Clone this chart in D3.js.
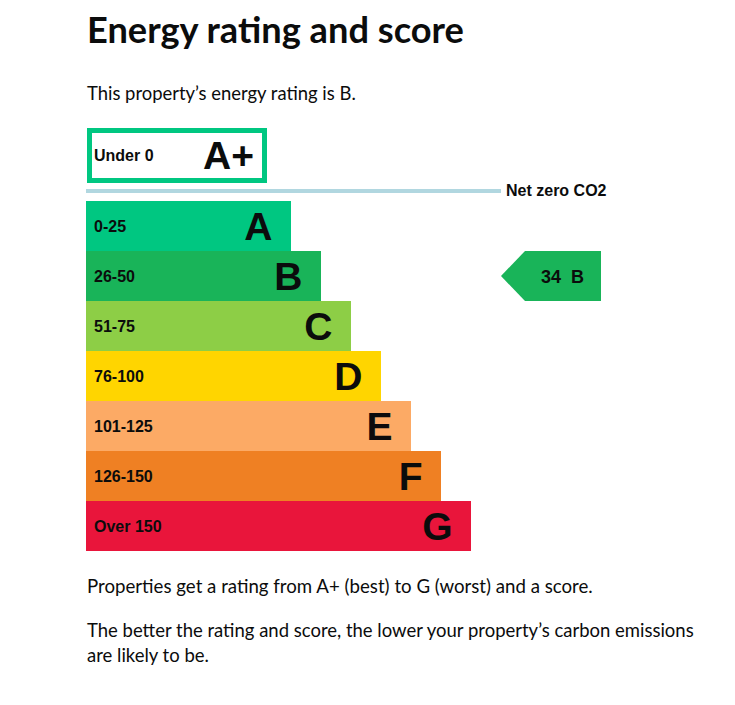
<!DOCTYPE html>
<html>
<head>
<meta charset="utf-8">
<script src="https://cdn.jsdelivr.net/npm/d3@7"></script>
<style>
  html, body { margin: 0; padding: 0; background: #fff; }
  svg { display: block; }
</style>
</head>
<body>
<div id="chart"></div>
<script>
// ---- data ----
const bands = ["A", "B", "C", "D", "E", "F", "G"];
const ranges = ["0-25", "26-50", "51-75", "76-100", "101-125", "126-150", "Over 150"];
const bandColors = ["#00c781", "#19b459", "#8dce46", "#ffd500", "#fcaa65", "#ef8023", "#e9153b"];
const topBand = "A+";
const topRange = "Under 0";
const topColor = "#00c781";
const netZeroLabel = "Net zero CO2";
const currentScore = 34;
const currentRating = "B";
const title = "Energy rating and score";
const intro = "This property\u2019s energy rating is B.";
const para1 = ["Properties get a rating from A+ (best) to G (worst) and a score."];
const para2 = ["The better the rating and score, the lower your property\u2019s carbon emissions", "are likely to be."];

const W = 735, H = 705;
const svg = d3.select("#chart").append("svg").attr("width", W).attr("height", H);

const bodyFont = "Lato, 'Noto Sans', sans-serif";
const chartFont = "'Liberation Sans', Arial, sans-serif";

// fit text horizontally to a target width by adjusting font size
function fit(sel, target) {
  const n = sel.node();
  const fs = parseFloat(sel.attr("font-size"));
  const w = n.getComputedTextLength();
  if (w > 0) sel.attr("font-size", fs * target / w);
}

// ---- headings ----
fit(svg.append("text").attr("x", 87).attr("y", 43).attr("font-family", bodyFont)
  .attr("font-weight", 700).attr("font-size", 34).attr("fill", "#0b0c0c").text(title), 377);
fit(svg.append("text").attr("x", 87).attr("y", 100).attr("font-family", bodyFont)
  .attr("font-size", 19).attr("fill", "#0b0c0c").text(intro), 269);

// ---- scales ----
const y = d3.scaleBand().domain(bands).range([201, 551]).padding(0);
const x0 = 86;
const w = d3.scaleLinear().domain([0, bands.length - 1]).range([205, 385]);
const g = svg.append("g");

// A+ box
const boxH = 55, boxW = 180, sw = 5;
const boxTop = 128;
g.append("rect")
  .attr("x", x0 + 1 + sw / 2).attr("y", boxTop + sw / 2)
  .attr("width", boxW - sw).attr("height", boxH - sw)
  .attr("fill", "#fff").attr("stroke", topColor).attr("stroke-width", sw);
g.append("text").attr("x", 94).attr("y", boxTop + boxH / 2 + 5.8)
  .attr("font-family", chartFont).attr("font-weight", 700).attr("font-size", 16)
  .attr("fill", "#0b0c0c").text(topRange);
g.append("text").attr("x", x0 + 1 + boxW - 13).attr("y", boxTop + boxH / 2 + 13.5)
  .attr("text-anchor", "end")
  .attr("font-family", chartFont).attr("font-weight", 700).attr("font-size", 39)
  .attr("fill", "#0b0c0c").text(topBand);

// net zero line
g.append("rect").attr("x", x0).attr("y", 189).attr("width", 415).attr("height", 4).attr("fill", "#b1d7e0");
g.append("text").attr("x", 506).attr("y", 196)
  .attr("font-family", chartFont).attr("font-weight", 700).attr("font-size", 16)
  .attr("fill", "#0b0c0c").text(netZeroLabel);

// bars
const rows = g.selectAll("g.row").data(bands).join("g").attr("class", "row");
rows.append("rect")
  .attr("x", x0).attr("y", d => y(d))
  .attr("width", (d, i) => w(i)).attr("height", y.bandwidth())
  .attr("fill", (d, i) => bandColors[i]);
rows.append("text")
  .attr("x", 94).attr("y", d => y(d) + y.bandwidth() / 2 + 5.8)
  .attr("font-family", chartFont).attr("font-weight", 700).attr("font-size", 16)
  .attr("fill", "#0b0c0c").text((d, i) => ranges[i]);
rows.append("text")
  .attr("x", (d, i) => x0 + w(i) - 18.5).attr("y", d => y(d) + y.bandwidth() / 2 + 13.5)
  .attr("text-anchor", "end")
  .attr("font-family", chartFont).attr("font-weight", 700).attr("font-size", 39)
  .attr("fill", "#0b0c0c").text(d => d);

// current rating indicator
const iy = y(currentRating), ih = y.bandwidth();
const ix = 501, iw = 100, tip = 24;
g.append("path")
  .attr("d", `M${ix},${iy + ih / 2} L${ix + tip},${iy} L${ix + iw},${iy} L${ix + iw},${iy + ih} L${ix + tip},${iy + ih} Z`)
  .attr("fill", bandColors[bands.indexOf(currentRating)]);
const it = g.append("text").attr("x", 541).attr("y", iy + ih / 2 + 6.5)
  .attr("font-family", chartFont).attr("font-weight", 700).attr("font-size", 18)
  .attr("fill", "#0b0c0c");
it.append("tspan").text(currentScore);
it.append("tspan").attr("dx", 10).text(currentRating);

// ---- bottom paragraphs ----
const p1 = svg.append("g");
para1.forEach((t, i) => {
  fit(p1.append("text").attr("x", 87).attr("y", 593 + i * 25).attr("font-family", bodyFont)
    .attr("font-size", 19).attr("fill", "#0b0c0c").text(t), 506);
});
const p2 = svg.append("g");
const fs2 = [];
para2.forEach((t, i) => {
  const s = p2.append("text").attr("x", 87).attr("y", 637 + i * 25).attr("font-family", bodyFont)
    .attr("font-size", 19).attr("fill", "#0b0c0c").text(t);
  if (i === 0) { fit(s, 607); fs2.push(s.attr("font-size")); }
  else s.attr("font-size", fs2[0]);
});
</script>
</body>
</html>
